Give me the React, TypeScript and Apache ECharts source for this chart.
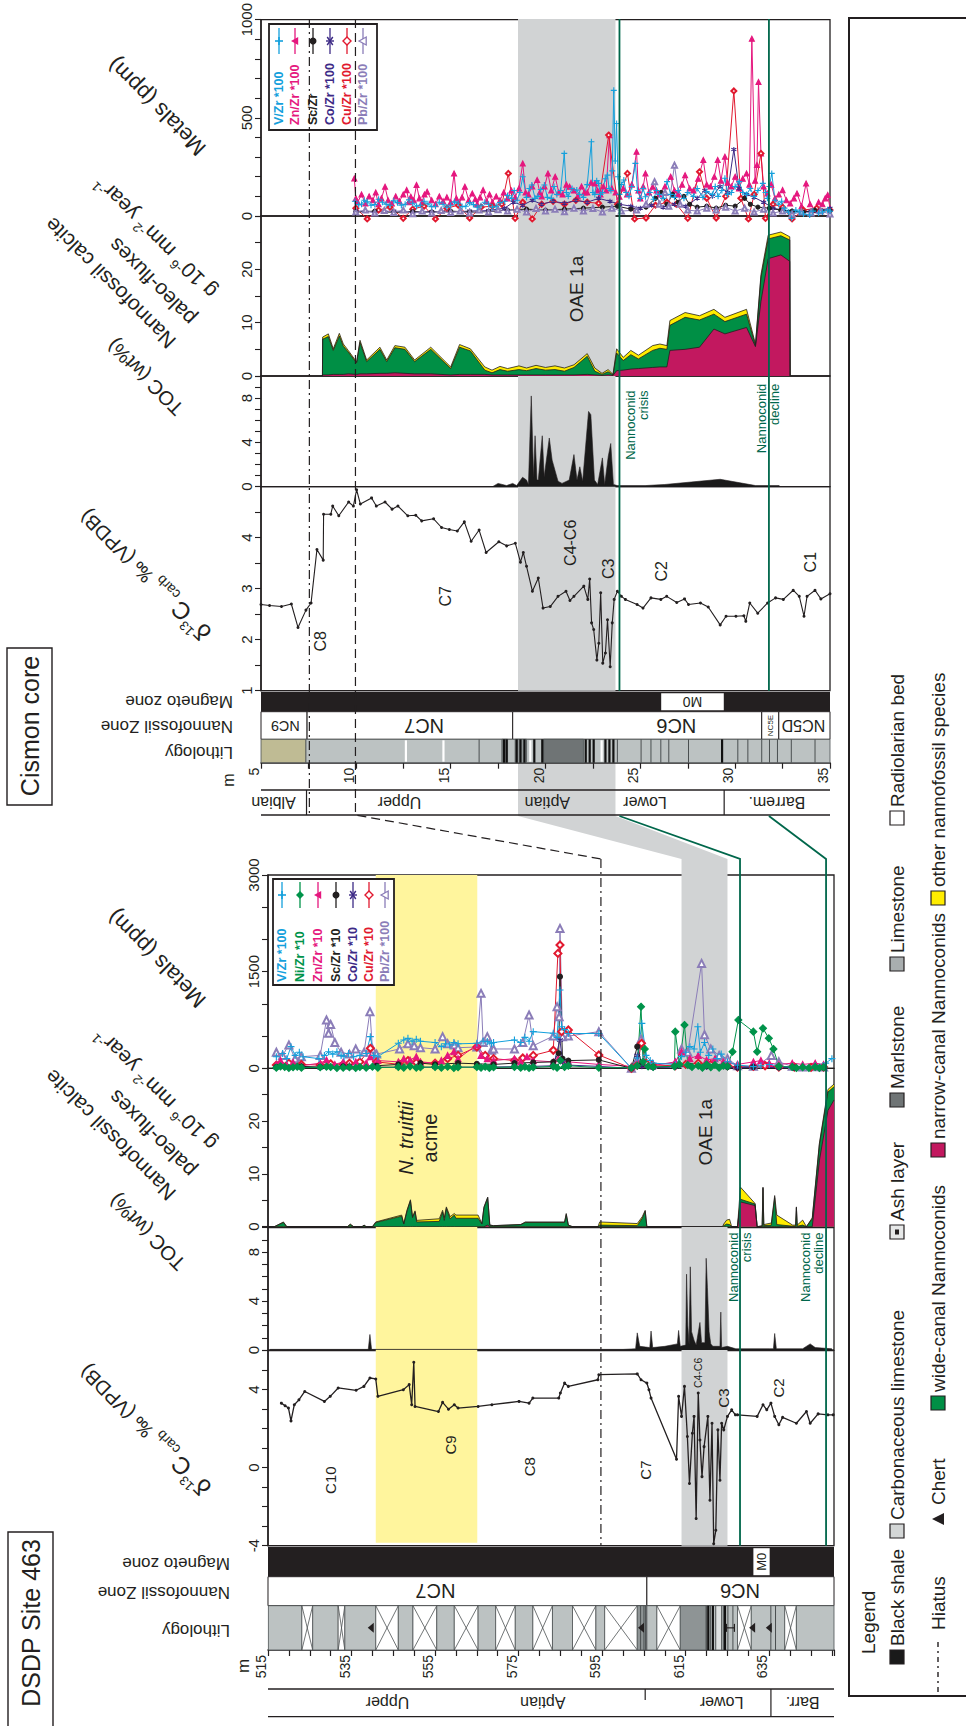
import React, { useEffect, useRef } from "react";
import * as echarts from "echarts";

const FONT = "'Liberation Sans', Arial, Helvetica, sans-serif";
const INK = "#231f20";
const GRAY_BAND = "#d1d3d4";
const YELLOW_BAND = "#fff59d";
const GREEN_LINE = "#00674b";
const C_NARROW = "#c2185f";
const C_WIDE = "#008f45";
const C_OTHER = "#ffec00";

// ---------------- Cismon core ----------------
const cismonD13C = [[5.0,2.69],[5.45,2.67],[6.08,2.65],[6.6,2.70],[6.95,2.24],[7.37,2.58],[7.64,2.72],[7.95,3.77],[8.28,3.56],[8.3,4.46],[8.68,4.46],[8.78,4.62],[9.1,4.43],[9.62,4.70],[9.87,4.62],[10.04,4.94],[10.24,4.66],[10.83,4.78],[11.08,4.62],[11.54,4.70],[11.91,4.56],[12.22,4.62],[12.74,4.43],[13.16,4.44],[13.47,4.33],[14.1,4.37],[14.52,4.20],[14.93,4.16],[15.35,4.13],[15.72,4.31],[16.08,3.93],[16.5,4.15],[16.87,3.71],[17.54,3.92],[17.95,3.84],[18.41,3.89],[18.68,3.52],[18.83,3.71],[19.0,3.44],[19.31,2.95],[19.62,3.21],[19.87,2.62],[20.25,2.65],[20.66,2.85],[21.08,2.95],[21.29,2.77],[21.5,2.85],[22.02,3.05],[22.23,2.79],[22.33,3.19],[22.43,2.33],[22.54,2.20],[22.71,1.60],[22.81,1.93],[22.91,2.92],[23.02,1.54],[23.16,1.74],[23.27,2.39],[23.41,1.47],[23.52,2.33],[23.62,2.79],[23.79,2.95],[24.0,2.85],[24.21,2.79],[24.83,2.69],[25.14,2.62],[25.56,2.82],[26.08,2.79],[26.39,2.85],[26.92,2.73],[27.33,2.80],[27.54,2.69],[28.17,2.72],[28.58,2.64],[29.21,2.29],[29.52,2.46],[30.04,2.46],[30.46,2.47],[30.56,2.36],[30.77,2.72],[31.19,2.52],[31.71,2.72],[32.13,2.82],[32.54,2.79],[33.06,2.97],[33.38,2.85],[33.63,2.46],[33.79,2.85],[34.21,2.97],[34.52,2.80],[35.0,2.90]];

const cismonTOC = [[17.2,0],[17.5,0.3],[17.95,0.1],[18.27,0.3],[18.48,0.1],[18.79,0.85],[19.0,0.6],[19.1,0.2],[19.25,8.2],[19.37,0.9],[19.45,4.6],[19.55,0.6],[19.62,0.6],[19.83,4.6],[19.93,0.9],[20.2,4.4],[20.35,2.4],[20.66,0.5],[20.87,0.3],[21.25,0.6],[21.5,2.9],[21.66,0.6],[21.81,1.8],[21.96,0.5],[22.27,6.8],[22.39,6.5],[22.58,0.6],[22.75,0.2],[23.0,2.6],[23.12,0.2],[23.31,2.75],[23.44,3.9],[23.58,0.2],[23.79,0.1],[25.25,0.1],[26.29,0.2],[29.21,0.67],[31.08,0.1],[32.33,0.1]];

const cismonFluxDepth = [8.24,8.25,8.55,8.81,9.13,9.34,9.6,10.04,10.22,10.57,11.27,11.63,12.06,12.59,13.1,13.95,15.0,15.47,16.04,16.8,17.18,17.6,18.0,18.6,19.0,19.5,20.0,20.5,21.0,21.5,22.2,22.6,22.98,23.3,23.56,23.75,24.1,24.5,24.9,25.65,26.03,26.4,26.56,27.36,28.12,28.88,29.46,30.6,31.07,31.36,31.74,32.41,32.88,32.9];
const cismonFluxNarrow = [0,0.2,0.2,0.3,0.3,0.3,0.4,0.3,0.4,0.4,0.5,0.5,0.6,0.5,0.4,0.4,0.2,0.3,0.3,0.3,0.2,0.2,0.2,0.2,0.2,0.2,0.2,0.2,0.2,0.2,0.3,0.2,0.1,0.2,0.1,1.0,1.1,1.3,1.4,1.6,1.7,1.7,4.8,5.0,5.4,8.8,7.9,9.1,5.5,14.0,22.0,22.7,21.5,0];
const cismonFluxWide = [0,6.7,7.2,4.5,7.2,5.3,4.1,2.15,5.9,2.3,4.5,2.2,4.7,4.5,2.3,4.6,1.2,5.1,4.4,0.8,0.4,1.0,0.7,1.0,0.8,1.2,0.9,1.0,0.7,1.4,3.4,0.7,0.2,0.6,0.1,3.3,1.8,2.7,1.8,3.2,3.5,3.3,4.7,6.0,5.1,2.8,2.3,2.5,0.2,4.5,3.7,3.6,4.0,0];
const cismonFluxOther = [0,0.4,0.5,0.3,0.5,0.4,0.3,0.2,0.4,0.3,0.4,0.3,0.4,0.4,0.3,0.4,0.3,0.5,0.4,0.6,0.5,0.6,0.5,0.7,0.5,0.6,0.5,0.7,0.6,0.5,0.5,0.6,0.2,0.4,0.1,0.8,0.6,0.8,0.7,0.9,0.8,0.7,0.9,0.9,0.8,0.9,0.8,0.9,0.3,0.5,0.7,0.7,0.6,0];

const cismonV = [[9.95,75],[10.15,58],[10.3,60],[10.45,80],[10.6,72],[10.8,55],[11.0,58],[11.2,85],[11.4,70],[11.6,60],[11.8,55],[12.0,78],[12.2,68],[12.4,55],[12.6,60],[12.8,82],[13.0,65],[13.2,50],[13.4,55],[13.6,75],[13.8,62],[14.0,48],[14.2,50],[14.4,70],[14.6,60],[14.8,45],[15.0,55],[15.2,72],[15.4,65],[15.6,48],[15.8,50],[16.0,68],[16.2,58],[16.4,45],[16.6,52],[16.8,70],[17.0,60],[17.2,45],[17.4,50],[17.6,68],[17.85,75],[18.0,105],[18.2,90],[18.35,130],[18.5,80],[18.65,120],[18.8,200],[19.0,95],[19.15,140],[19.28,158],[19.45,90],[19.6,100],[19.75,135],[19.94,158],[20.1,95],[20.3,90],[20.45,150],[20.6,110],[20.8,130],[20.99,319],[21.1,120],[21.2,100],[21.4,140],[21.65,132],[21.8,110],[22.0,95],[22.2,160],[22.42,378],[22.5,120],[22.6,110],[22.7,180],[22.8,166],[22.9,110],[23.0,120],[23.15,190],[23.27,208],[23.35,140],[23.45,130],[23.52,230],[23.6,640],[23.68,280],[23.75,471],[23.82,200],[23.9,110],[24.0,160],[24.13,183],[24.25,120],[24.4,100],[24.55,150],[24.74,268],[24.85,130],[25.0,90],[25.15,140],[25.27,98],[25.5,120],[25.7,85],[25.85,130],[26.0,110],[26.2,90],[26.41,175],[26.6,110],[26.8,95],[27.0,130],[27.3,90],[27.5,120],[27.8,100],[28.0,140],[28.3,95],[28.5,125],[28.8,110],[28.95,150],[29.1,100],[29.3,130],[29.46,192],[29.6,110],[29.8,120],[30.0,150],[30.22,175],[30.4,120],[30.6,110],[30.8,140],[31.0,100],[31.2,130],[31.46,166],[31.6,120],[31.7,90],[31.8,150],[31.93,217],[32.1,80],[32.3,60],[32.45,75],[32.6,40],[32.8,20],[32.98,-12],[33.2,30],[33.4,20],[33.6,10],[33.93,5],[34.1,25],[34.4,15],[34.6,20],[34.88,31],[35.0,25]];
const cismonZn = [[9.92,191],[10.0,90],[10.1,70],[10.3,110],[10.5,64],[10.7,100],[10.9,80],[11.05,120],[11.2,60],[11.35,90],[11.54,149],[11.7,80],[11.9,64],[12.1,100],[12.3,75],[12.5,110],[12.68,132],[12.8,70],[12.9,98],[13.05,80],[13.2,158],[13.35,90],[13.5,70],[13.62,110],[13.76,124],[14.0,80],[14.2,60],[14.4,100],[14.6,75],[14.8,95],[15.0,70],[15.18,217],[15.3,90],[15.45,64],[15.6,95],[15.75,149],[15.95,80],[16.14,115],[16.3,85],[16.4,60],[16.55,95],[16.71,132],[16.9,75],[17.05,110],[17.2,70],[17.4,100],[17.6,80],[17.8,120],[18.0,90],[18.2,130],[18.4,95],[18.6,140],[18.8,268],[18.95,120],[19.1,110],[19.3,150],[19.56,183],[19.7,120],[19.8,100],[19.95,150],[20.13,217],[20.3,130],[20.51,200],[20.7,120],[20.9,110],[21.1,160],[21.27,149],[21.5,130],[21.7,100],[21.9,150],[22.05,120],[22.2,120],[22.4,170],[22.61,166],[22.75,130],[22.9,110],[23.05,150],[23.2,130],[23.37,412],[23.5,140],[23.7,120],[23.9,98],[24.1,140],[24.3,110],[24.55,160],[24.8,327],[24.9,130],[25.0,90],[25.15,150],[25.27,217],[25.45,120],[25.65,149],[25.85,130],[26.0,110],[26.3,150],[26.6,200],[26.8,130],[27.0,110],[27.2,160],[27.36,208],[27.6,140],[27.8,130],[28.05,190],[28.32,285],[28.5,160],[28.7,150],[28.9,200],[29.08,285],[29.25,180],[29.46,302],[29.6,170],[29.8,150],[30.0,200],[30.2,140],[30.4,190],[30.6,217],[30.75,160],[30.88,903],[31.05,180],[31.15,260],[31.23,683],[31.36,319],[31.5,150],[31.7,115],[31.9,160],[32.1,90],[32.3,110],[32.5,132],[32.7,80],[32.9,64],[33.1,90],[33.26,115],[33.5,50],[33.74,166],[33.95,60],[34.2,30],[34.4,70],[34.6,60],[34.75,90],[34.88,107],[35.0,40]];
const cismonSc = [[10.0,20],[11.0,25],[12.0,18],[13.0,22],[14.0,20],[15.0,25],[16.0,20],[17.0,22],[18.0,30],[19.0,35],[20.0,30],[21.0,35],[22.0,40],[23.0,45],[23.8,50],[24.5,35],[25.3,45],[25.8,90],[26.1,120],[26.4,60],[26.7,110],[27.0,70],[27.3,100],[27.6,60],[28.0,45],[28.5,50],[29.0,40],[29.5,55],[30.0,50],[30.5,90],[30.8,60],[31.2,45],[31.8,40],[32.4,30],[33.0,25],[33.6,20],[34.2,30],[35.0,25]];
const cismonCo = [[10.0,25],[11.0,20],[12.0,25],[13.0,20],[14.0,22],[15.0,20],[16.0,25],[17.0,28],[17.85,40],[18.3,70],[18.8,55],[19.3,80],[19.8,60],[20.4,75],[21.0,65],[21.6,80],[22.2,70],[22.8,90],[23.4,75],[23.9,60],[24.5,50],[25.0,40],[25.6,55],[26.2,45],[26.8,60],[27.4,50],[28.0,90],[28.4,130],[28.8,100],[29.2,150],[29.6,120],[29.93,339],[30.2,140],[30.6,110],[31.0,95],[31.5,70],[32.0,40],[32.5,30],[33.0,25],[33.5,20],[34.0,25],[34.5,30],[35.0,40]];
const cismonCu = [[10.0,40],[10.6,-15],[11.2,30],[11.8,45],[12.5,-12],[13.0,35],[13.6,50],[14.2,-15],[14.8,40],[15.4,55],[16.0,-10],[16.6,45],[17.2,50],[17.7,60],[18.04,217],[18.4,-12],[18.8,70],[19.3,-15],[19.8,60],[20.4,75],[21.0,60],[21.6,80],[22.2,70],[22.8,65],[23.33,412],[23.8,60],[24.32,217],[24.7,-15],[25.3,-10],[25.8,55],[26.4,70],[26.9,60],[27.5,-12],[28.12,225],[28.5,90],[29.0,-10],[29.5,100],[29.93,637],[30.3,90],[30.7,-15],[31.0,110],[31.36,319],[31.6,-12],[32.0,60],[32.5,45],[33.0,-15],[33.6,30],[34.3,40],[35.0,30]];
const cismonPb = [[10.0,20],[10.5,30],[11.0,15],[11.5,28],[12.0,18],[12.5,30],[13.0,12],[13.5,25],[14.0,15],[14.5,28],[15.0,18],[15.5,25],[16.0,15],[16.5,30],[17.0,20],[17.5,32],[18.0,25],[18.5,35],[19.0,20],[19.5,38],[20.0,25],[20.5,35],[21.0,22],[21.5,40],[22.0,25],[22.5,38],[23.0,20],[23.5,40],[24.0,25],[24.8,30],[25.3,60],[25.75,175],[26.0,60],[26.3,120],[26.5,50],[26.8,259],[27.1,60],[27.5,30],[28.0,25],[28.5,40],[29.0,30],[29.5,45],[30.0,25],[30.5,40],[31.0,20],[31.5,35],[32.0,15],[32.5,25],[33.0,10],[33.5,20],[34.0,15],[34.5,25],[35.0,10]];

// lithology: [top, base, kind]  kinds: 0 limestone, 1 no recovery (X), 2 marly, 3 marlstone, 4 Albian marl, 5 black shale, 6 radiolarian, 7 bed limit, 8 chert, 9 ash, 10 pale
const cismonLith = [[5.0,7.37,4],[7.37,35.0,0],[17.7,18.0,2],[18.4,19.0,2],[19.9,22.0,3],[12.64,12.64,6],[14.62,14.62,6],[19.2,19.2,6],[22.96,22.96,6],[17.81,17.81,5],[17.95,17.95,5],[18.48,18.48,5],[18.68,18.68,5],[18.89,18.89,5],[19.41,19.41,5],[19.83,19.83,5],[22.12,22.12,5],[22.33,22.33,5],[22.54,22.54,5],[23.16,23.16,5],[23.37,23.37,5],[23.58,23.58,5],[29.31,29.31,5],[16.5,16.5,7],[23.79,23.79,7],[25.04,25.04,7],[25.56,25.56,7],[26.08,26.08,7],[26.5,26.5,7],[27.54,27.54,7],[30.14,30.14,7],[30.67,30.67,7],[31.4,31.4,7],[31.81,31.81,7],[32.23,32.23,7],[32.96,32.96,7],[34.21,34.21,7]];
const cismonNannoNames = ["NC9", "NC7", "NC6", "NC5E", "NC5D"];
const cismonNanno = [[5.0,7.43,0,6.28],[7.43,18.27,1,13.6],[18.27,31.4,2,26.9],[31.4,32.3,3,31.85],[32.3,35.0,4,33.6]];
const cismonMagneto = [[5,35,0],[26.1,29.4,1]];
const cismonStageNames = ["Albian", "Upper", "Aptian", "Lower", "Barrem."];
const cismonStages = [[5.66,0,0],[12.3,0,1],[20.1,0,2],[25.25,0,3],[32.2,0,4],[7.4,1,0],[29.42,1,0]];
const cismonZones = [["C8",8.16,1.97],["C7",14.72,2.85],["C4-C6",21.33,3.9],["C3",23.33,3.39],["C2",26.14,3.34],["C1",33.96,3.52]];

// ---------------- DSDP Site 463 ----------------
const dsdpD13C = [[518.2,3.31],[519.1,3.18],[519.9,3.06],[520.5,2.40],[521.3,3.23],[522.4,3.48],[523.8,3.91],[528.5,3.40],[529.9,3.66],[531.8,4.09],[536.1,3.97],[537.96,4.17],[539.4,4.60],[540.8,4.55],[541.3,3.66],[547.4,4.0],[548.8,4.26],[549.4,3.23],[549.9,5.41],[550.2,3.14],[555.8,2.88],[556.8,3.35],[558.2,3.0],[559.6,3.23],[560.5,3.06],[565.3,3.14],[568.6,3.23],[575.1,3.40],[577.5,3.31],[578.4,3.57],[584.6,3.57],[585.0,3.83],[586.0,4.34],[586.9,4.17],[593.97,4.51],[594.2,4.77],[603.4,4.81],[604.3,4.51],[605.7,4.34],[606.2,4.0],[606.7,3.57],[612.8,0.43],[613.3,3.66],[614.0,2.63],[614.7,4.17],[615.4,1.60],[615.9,-0.81],[616.6,1.77],[617.0,2.63],[617.5,-2.61],[618.0,3.83],[618.4,1.42],[618.9,-0.46],[619.4,1.08],[620.3,2.63],[620.8,-1.67],[621.3,2.28],[621.7,-3.90],[622.2,-3.21],[622.7,1.94],[623.2,-0.64],[623.6,2.28],[624.1,1.94],[625.0,2.63],[626.0,2.97],[626.9,2.71],[627.4,2.71],[632.1,2.63],[633.5,3.23],[634.4,2.97],[635.4,3.31],[636.3,2.63],[637.3,2.20],[638.2,2.58],[641.5,2.28],[643.9,2.88],[644.8,2.28],[646.7,2.76],[649.05,2.71],[650.3,2.71]];

const dsdpTOC = [[515.5,0.05],[530,0.05],[539.0,0.05],[539.4,1.27],[539.8,0.05],[560,0.05],[575,0.05],[600,0.05],[603.0,0.1],[603.4,1.4],[604,0.3],[606.4,0.2],[606.7,1.55],[607.1,0.2],[610,0.3],[613.0,0.5],[613.3,1.6],[613.7,0.3],[615.0,0.4],[615.2,6.2],[615.5,2.0],[615.8,0.5],[616.1,6.8],[616.4,1.5],[617,0.8],[617.5,0.4],[618.4,2.25],[618.8,0.6],[619.6,0.6],[619.9,7.5],[620.2,5.1],[620.6,1.5],[621,0.5],[621.5,0.3],[623.2,0.3],[623.4,3.1],[623.6,0.2],[625,0.3],[627,0.1],[635,0.1],[636.0,0.1],[636.3,1.35],[636.7,0.1],[643,0.1],[644.8,0.5],[646,0.2],[650,0.1]];

const dsdpFluxDepth = [516.5,518.7,519.5,534.0,534.7,535.5,537.5,538.0,538.5,540.0,540.8,547.0,547.5,548.3,549.1,549.6,550.2,550.6,556.0,556.8,557.2,557.7,558.6,559.6,560.0,565.3,566.2,566.7,567.6,568.1,569.0,575.5,576.6,586.0,586.4,586.9,587.9,594.0,594.4,603.4,604.6,605.3,605.7,623.8,624.1,624.8,625.5,626.0,627.4,628.1,631.6,632.1,633.3,633.5,633.7,635.5,636.3,636.8,640.6,641.3,641.5,641.7,643.0,643.9,645.3,647.0,649.05,650.5];
const dsdpFluxNarrow = [0,0,0,0,0,0,0,0,0,0, 0,0,0,0,0,0,0,0,0,0, 0,0,0,0,0,0,0,0,0.3,0, 0,0,0,0,0,0,0,0,0,0, 0,0,0,0,0,0,0,0,0,4.7, 4.0,0,0,0,0,0,0,0,0,0, 0,0,0,0,0,12.5,22.0,24.0];
const dsdpFluxWide = [0,0.8,0,0,0.4,0,0,0.3,0,0, 0.8,2.0,0.5,3.0,4.9,1.7,2.8,0.9,1.0,2.8, 1.2,3.5,1.5,2.2,1.6,1.6,0.5,3.6,5.2,0.3, 0.2,0.4,0.8,0.8,2.3,0.3,0,0,0.3,0.2, 1.6,2.9,0,0,0.2,0.5,0.4,0,0,0.5, 0.3,0,0.1,7.3,0.2,0.3,5.5,0.4,0.1,0.1, 3.6,0.1,0.3,0,1.5,3.0,3.5,2.5];
const dsdpFluxOther = [0,0.1,0,0,0.1,0,0,0,0,0, 0.1,0.2,0.1,0.2,0.2,0.2,0.2,0.3,0.5,0.3, 0.5,0.25,0.4,0.3,0.6,0.6,0.1,0.15,0.1,0, 0,0,0.1,0.1,0.2,0,0,0,0.6,0.4, 0.3,0.2,0,0,0.3,0.75,1.0,0,0,2.3, 0.1,0,0.1,0.2,0.2,0.4,0.4,1.8,0.2,0.2, 0.15,0.2,0.95,0,0.2,0.3,0.5,0.5];

const dsdpV = [[517,180],[518.5,230],[519.5,150],[520.5,336],[521.5,200],[522.5,250],[523.4,180],[527.2,150],[528.5,200],[529.5,258],[530.5,220],[531.5,258],[532.5,200],[533.2,180],[534.3,230],[535.5,180],[537,200],[538.5,230],[539.5,491],[540.3,200],[541.3,180],[546.2,388],[547.5,440],[548.5,465],[549.5,420],[550.5,450],[551.5,420],[555,400],[556.5,336],[557.5,380],[558.5,362],[559.5,400],[560.5,380],[565,388],[566.5,420],[567.5,414],[568.5,380],[569,400],[574,440],[575.5,400],[576.5,480],[577.5,420],[578.5,569],[583.3,543],[584.2,480],[584.9,1215],[585.3,646],[586,600],[586.9,540],[594.2,540],[602,0],[603.4,160],[604.5,698],[605.5,200],[606.5,120],[607.2,80],[612.5,60],[614,181],[615,250],[616,336],[617,300],[617.9,646],[618.5,250],[619.5,400],[620.5,200],[621.5,300],[622.5,150],[623.5,220],[625,100],[627.4,50],[631.2,26],[633,40],[635,60],[637.3,30],[640.5,20],[643,30],[646,40],[648.5,80],[650,150]];
const dsdpNi = [[517,10],[518,30],[519,20],[520,5],[521,15],[522,25],[523,10],[527.5,15],[529,25],[530,20],[531.5,5],[533,10],[534.5,15],[536,5],[537,20],[538.5,10],[540,25],[541.3,10],[546.2,20],[547.5,10],[549,30],[550.5,10],[551.5,15],[555,20],[556.5,10],[558,25],[559.5,5],[560.5,15],[565,20],[566,10],[567,25],[568,5],[569,15],[574,20],[575.5,10],[576.5,25],[577.5,5],[578.5,15],[583.3,30],[584.2,10],[585,120],[586,20],[586.9,40],[594.2,10],[602,10],[603.4,40],[604.3,956],[604.8,100],[605.2,300],[606,30],[607.2,20],[612.3,30],[612.5,569],[613.5,60],[614.7,672],[615.5,50],[616.5,20],[618,40],[619,10],[620,60],[621,15],[622,50],[623,10],[624,40],[625,30],[626.2,258],[627.6,750],[631.2,569],[632.1,258],[633.5,620],[634.9,465],[636,300],[637.3,30],[640.5,20],[641.5,5],[643,15],[644.5,5],[646,20],[647,5],[648,15]];
const dsdpZn = [[517,60],[518,120],[519.5,50],[521,90],[523,40],[527.5,80],[529,130],[531,60],[533,100],[534.5,40],[536,100],[538.5,80],[539.5,181],[540.5,60],[541.3,120],[546.2,100],[547.5,150],[549,130],[550.5,180],[551.5,100],[555,80],[556.5,120],[558,200],[559.5,258],[560.5,150],[565,362],[566,200],[567.5,150],[569,120],[574,150],[575.5,100],[577,180],[578.5,120],[583.3,100],[584.5,150],[585.5,120],[586.9,100],[594.2,60],[602,30],[603.5,80],[605,60],[607,40],[612.5,100],[614,258],[616,150],[618,200],[620,130],[622,150],[624,100],[625,80],[627.4,60],[631.2,100],[633,120],[635,80],[637.3,60],[640.5,80],[643,60],[646,80],[648,60]];
const dsdpSc = [[517,20],[523,30],[527.5,20],[533,30],[534.5,25],[541,40],[546.2,60],[551.5,80],[555,60],[560.5,80],[565,70],[569,60],[574,80],[578.5,90],[583.3,100],[584.6,233],[584.9,1422],[585.5,150],[586.9,120],[594.2,130],[602,0],[603.4,336],[604.5,60],[607.2,20],[612.5,30],[616,40],[620,30],[625,20],[627.4,10],[631.2,20],[637.3,15],[641,10],[648,10]];
const dsdpCo = [[517,10],[523,15],[527.5,10],[533,15],[534.5,10],[541,20],[546.2,15],[551.5,20],[555,15],[560.5,20],[565,15],[569,20],[574,25],[578.5,30],[583.3,40],[584.9,440],[585.5,100],[586.9,50],[594.2,30],[602,0],[603.4,200],[604.5,30],[607.2,10],[612.5,20],[616,30],[620,25],[625,15],[627.4,10],[631.2,20],[637.3,10],[641,10],[648,10]];
const dsdpCu = [[517,50],[520,80],[523,60],[527.5,50],[530,70],[533,60],[534.5,80],[537,100],[539.5,310],[541,100],[546.5,60],[548.5,120],[550.5,90],[555,80],[558,150],[560.5,200],[565,330],[567,200],[569,150],[574,120],[576,160],[578.5,200],[583.3,280],[584.4,1783],[584.9,1913],[585.3,569],[586.9,594],[594.2,207],[602,0],[603.4,50],[604.4,388],[605.5,80],[607,50],[612.5,40],[615,60],[618,80],[621,60],[625,40],[627.4,20],[631.2,30],[634,40],[637.3,20],[641,20],[645,15],[648,20]];
const dsdpPb = [[517,250],[518.5,200],[520,362],[521.5,150],[523,180],[527.5,200],[529,750],[529.5,543],[530,680],[531,400],[532.5,250],[534.5,220],[536,300],[538,250],[539.4,879],[540,300],[541,220],[546.5,300],[548.5,380],[550,350],[551.5,320],[555,300],[556.8,491],[558,380],[559.6,362],[560.5,320],[565,330],[566,1163],[566.5,400],[567.5,491],[568.5,280],[569,300],[574,300],[576,400],[577.5,827],[578.5,350],[583.3,500],[584.2,956],[584.7,800],[584.9,2171],[585.5,491],[586.9,500],[594.2,569],[602,0],[603.4,100],[604.3,450],[605,100],[607,60],[612.5,80],[614,300],[615.5,250],[618.8,1628],[619.5,520],[621,300],[623,200],[625,150],[627.4,40],[631.2,30],[633,80],[635.5,200],[637.3,100],[640.5,30],[643,20],[646,25],[648,20]];

const dsdpLith = [[515.1,523.1,0],[523.1,525.7,1],[525.7,531.8,0],[531.8,533.4,1],[533.4,540.8,0],[540.8,546.2,1],[546.2,549.7,0],[549.7,555.4,1],[555.4,559.6,0],[559.6,565.3,1],[565.3,569.5,0],[569.5,574.2,1],[574.2,578.4,0],[578.4,583.1,1],[583.1,587.9,0],[587.9,593.5,1],[593.5,595.6,0],[595.6,603.4,1],[603.4,605.7,2],[605.7,608.1,0],[608.1,613.7,1],[613.7,619.9,2],[619.9,622.2,0],[622.2,623.6,10],[623.6,627.4,0],[627.4,630.7,1],[630.7,635.4,0],[635.4,638.7,0],[638.7,641.5,1],[641.5,650.5,0],[604.2,604.2,7],[605.0,605.0,7],[605.4,605.4,7],[620.0,620.0,7],[620.4,620.4,5],[620.9,620.9,7],[621.5,621.5,5],[624.0,624.0,7],[624.4,624.4,5],[625.1,625.1,7],[626.3,626.3,7],[636.5,636.5,7],[539.6,539.6,8],[604.3,604.3,8],[630.9,630.9,8],[634.9,634.9,8],[625.7,625.7,9]];
const dsdpNannoNames = ["NC7", "NC6"];
const dsdpNanno = [[515,605.7,0,555.1],[605.7,650.5,1,628.0]];
const dsdpMagneto = [[515,650.5,0],[631.2,635.1,1]];
const dsdpStageNames = ["Upper", "Aptian", "Lower", "Barr."];
const dsdpStages = [[543.6,0,0],[580.8,0,1],[623.6,0,2],[643,0,3],[605.3,2,0],[635.4,1,0]];
const dsdpZones = [["C10",530,-0.64],["C9",558.7,1.17],["C8",577.5,0.05],["C7",605.3,-0.12],["C4-C6",618,4.86],["C3",624.1,3.57],["C2",637.3,4.09]];

// ---------------- layout ----------------
const GRIDS = [
  { l: 261, r: 830, t: 19, b: 216 },
  { l: 261, r: 830, t: 216, b: 376 },
  { l: 261, r: 830, t: 376, b: 486.7 },
  { l: 261, r: 830, t: 486.7, b: 690.7 },
  { l: 261, r: 830, t: 691.7, b: 711.7 },
  { l: 261, r: 830, t: 711.7, b: 739.3 },
  { l: 261, r: 830, t: 739.3, b: 762.7 },
  { l: 261, r: 830, t: 790, b: 815 },
  { l: 268, r: 834, t: 875, b: 1068.3 },
  { l: 268, r: 834, t: 1068.3, b: 1226.7 },
  { l: 268, r: 834, t: 1227.7, b: 1350 },
  { l: 268, r: 834, t: 1350.7, b: 1545.7 },
  { l: 268, r: 834, t: 1546.7, b: 1576.7 },
  { l: 268, r: 834, t: 1576.7, b: 1605.7 },
  { l: 268, r: 834, t: 1605.7, b: 1650 },
  { l: 268, r: 834, t: 1689, b: 1716.7 },
];

const txtStyle = (o: any) => {
  const s: any = {
    text: o.text, fill: o.color || INK, fontSize: o.size || 15, fontFamily: FONT,
    fontWeight: o.weight || "normal", fontStyle: o.fstyle || "normal",
    align: o.align || "center", verticalAlign: o.valign || "middle",
    textAlign: o.align || "center", textVerticalAlign: o.valign || "middle",
  };
  if (o.rich) s.rich = o.rich;
  return s;
};
const T = (x: number, y: number, text: string, o: any = {}) => ({
  type: "text", x, y, rotation: o.rot || 0, z: o.z || 6, silent: true,
  style: txtStyle({ ...o, text }),
});

const LITH_FILL: any = { 0: "#bcc2c2", 1: "#ffffff", 2: "#8e9495", 3: "#6f7475", 4: "#bfbb94", 10: "#dfe2e2" };

function renderLith(params: any, api: any) {
  const cs = params.coordSys;
  const a = api.coord([api.value(0), 0])[0];
  const b = api.coord([api.value(1), 0])[0];
  const k = api.value(2);
  const y = cs.y, h = cs.height;
  const edge = "#4d5253";
  if (k <= 4 || k === 10) {
    const ch: any[] = [{ type: "rect", shape: { x: a, y, width: b - a, height: h }, style: { fill: LITH_FILL[k], stroke: edge, lineWidth: 0.8 } }];
    if (k === 1) {
      ch.push({ type: "line", shape: { x1: a, y1: y, x2: b, y2: y + h }, style: { stroke: edge, lineWidth: 0.8 } });
      ch.push({ type: "line", shape: { x1: a, y1: y + h, x2: b, y2: y }, style: { stroke: edge, lineWidth: 0.8 } });
    }
    return { type: "group", children: ch };
  }
  if (k === 5) return { type: "line", shape: { x1: a, y1: y, x2: a, y2: y + h }, style: { stroke: "#111", lineWidth: 2.2 } };
  if (k === 6) return { type: "line", shape: { x1: a, y1: y + 1, x2: a, y2: y + h - 1 }, style: { stroke: "#fff", lineWidth: 2.2 } };
  if (k === 7) return { type: "line", shape: { x1: a, y1: y, x2: a, y2: y + h }, style: { stroke: "#4a4f50", lineWidth: 1 } };
  if (k === 8) {
    const m = y + h / 2;
    return { type: "polygon", shape: { points: [[a + 3, m - 5], [a + 3, m + 5], [a - 3, m]] }, style: { fill: INK } };
  }
  const m = y + h / 2;
  return {
    type: "group", children: [
      { type: "line", shape: { x1: a - 4, y1: m, x2: a + 4, y2: m }, style: { stroke: INK, lineWidth: 1.2 } },
      { type: "line", shape: { x1: a - 4, y1: m - 4, x2: a - 4, y2: m + 4 }, style: { stroke: INK, lineWidth: 1.2 } },
      { type: "line", shape: { x1: a + 4, y1: m - 4, x2: a + 4, y2: m + 4 }, style: { stroke: INK, lineWidth: 1.2 } },
    ],
  };
}

const renderNanno = (names: string[]) => (params: any, api: any) => {
  const cs = params.coordSys;
  const a = api.coord([api.value(0), 0])[0];
  const b = api.coord([api.value(1), 0])[0];
  const lx = api.coord([api.value(3), 0])[0];
  const w = b - a;
  const narrow = w < 22;
  const fs = narrow ? 8 : Math.min(20, w / 3.2);
  return {
    type: "group", children: [
      { type: "rect", shape: { x: a, y: cs.y, width: w, height: cs.height }, style: { fill: "#fff", stroke: INK, lineWidth: 1 } },
      { type: "text", x: lx, y: cs.y + cs.height / 2, rotation: narrow ? Math.PI / 2 : Math.PI, style: txtStyle({ text: names[api.value(2)], size: fs }) },
    ],
  };
};

const renderMagneto = (rot: number, fs: number) => (params: any, api: any) => {
  const cs = params.coordSys;
  const a = api.coord([api.value(0), 0])[0];
  const b = api.coord([api.value(1), 0])[0];
  if (api.value(2) === 0) return { type: "rect", shape: { x: a, y: cs.y, width: b - a, height: cs.height }, style: { fill: INK } };
  return {
    type: "group", children: [
      { type: "rect", shape: { x: a, y: cs.y + 1.5, width: b - a, height: cs.height - 3 }, style: { fill: "#fff" } },
      { type: "text", x: (a + b) / 2, y: cs.y + cs.height / 2, rotation: rot, style: txtStyle({ text: "M0", size: fs }) },
    ],
  };
};

const renderStage = (names: string[]) => (params: any, api: any) => {
  const cs = params.coordSys;
  const x = api.coord([api.value(0), 0])[0];
  const k = api.value(1);
  if (k === 0) return { type: "text", x, y: cs.y + cs.height / 2, rotation: Math.PI, style: txtStyle({ text: names[api.value(2)], size: 16 }) };
  const y2 = k === 1 ? cs.y + cs.height : cs.y + cs.height * 0.4;
  return { type: "line", shape: { x1: x, y1: cs.y, x2: x, y2 }, style: { stroke: INK, lineWidth: 1.2 } };
};

function yAx(i: number, min: number, max: number, interval: number, minor: number, fmt: (v: number) => string) {
  return {
    type: "value", gridIndex: i, min, max, interval,
    axisLine: { show: true, lineStyle: { color: INK, width: 1.5 } },
    axisTick: { show: true, length: 6, lineStyle: { color: INK, width: 1.1 } },
    minorTick: { show: true, splitNumber: minor, length: 6, lineStyle: { color: INK, width: 1.1 } },
    splitLine: { show: false }, minorSplitLine: { show: false },
    axisLabel: { rotate: 90, fontSize: 15, color: INK, fontFamily: FONT, margin: 7, formatter: fmt },
  };
}
const yHidden = (i: number) => ({ type: "value", gridIndex: i, min: 0, max: 1, show: false });

function metal(name: string, data: number[][], color: string, symbol: string, size: number, ax: number) {
  return {
    name, type: "line", xAxisIndex: ax, yAxisIndex: ax, data, symbol, symbolSize: size, showSymbol: true,
    lineStyle: { color, width: 1 }, itemStyle: { color, borderColor: color, borderWidth: 1.1 }, clip: false, z: 3,
  };
}
const PLUS = "path://M0,5L10,5M5,0L5,10";
const STAR = "path://M5,0L5,10M0,2.5L10,7.5M0,7.5L10,2.5";

function fluxSeries(depth: number[], narrow: number[], wide: number[], other: number[], ax: number) {
  const tot = depth.map((d, i) => [d, narrow[i] + wide[i] + other[i]]);
  const nw = depth.map((d, i) => [d, narrow[i] + wide[i]]);
  const n = depth.map((d, i) => [d, narrow[i]]);
  const mk = (data: number[][], color: string) => ({
    type: "line", xAxisIndex: ax, yAxisIndex: ax, data, symbol: "none",
    lineStyle: { color: INK, width: 0.8 }, areaStyle: { color, opacity: 1 }, z: 3,
  });
  return [mk(tot, C_OTHER), mk(nw, C_WIDE), mk(n, C_NARROW)];
}

function buildOption() {
  const grid = GRIDS.map((g, i) => ({
    left: g.l, top: g.t, width: g.r - g.l, height: g.b - g.t,
    show: i % 8 < 4, borderColor: INK, borderWidth: 1.3, backgroundColor: "transparent",
  }));
  const xAxis = GRIDS.map((g, i) => {
    const c = i < 8;
    return {
      type: "value", gridIndex: i, min: c ? 5 : 515, max: c ? 35 : 650.5, interval: c ? 5 : 20,
      show: i % 8 === 6, position: "bottom",
      axisLine: { show: true, onZero: false, lineStyle: { color: INK, width: 1.5 } },
      axisTick: { show: true, length: 6, lineStyle: { color: INK, width: 1.2 } },
      minorTick: { show: true, splitNumber: c ? 2 : 4, length: 6, lineStyle: { color: INK, width: 1.2 } },
      axisLabel: { rotate: 90, fontSize: 14, color: INK, fontFamily: FONT, margin: 5, verticalAlign: "bottom", showMaxLabel: c },
      splitLine: { show: false },
    };
  });
  const fmtAll = (v: number) => String(v);
  const yAxis = [
    yAx(0, 0, 1000, 500, 5, fmtAll),
    yAx(1, 0, 30, 10, 2, (v) => (v === 30 ? "" : String(v))),
    yAx(2, 0, 10, 2, 2, (v) => (v % 4 === 0 && v < 10 ? String(v) : "")),
    yAx(3, 1, 5, 1, 2, (v) => (v === 5 ? "" : String(v))),
    yHidden(4), yHidden(5), yHidden(6), yHidden(7),
    yAx(8, 0, 3000, 1500, 3, fmtAll),
    yAx(9, 0, 30, 10, 2, (v) => (v === 30 ? "" : String(v))),
    yAx(10, 0, 10, 2, 2, (v) => (v % 4 === 0 && v < 10 ? String(v) : "")),
    yAx(11, -4, 6, 2, 2, (v) => (v % 4 === 0 && v < 6 ? String(v) : "")),
    yHidden(12), yHidden(13), yHidden(14), yHidden(15),
  ];
  const custom = (ax: number, data: any[], renderItem: any) => ({
    type: "custom", xAxisIndex: ax, yAxisIndex: ax, data, renderItem, clip: false, z: 2, encode: { x: [0, 1] },
  });
  const series: any[] = [
    metal("Zn/Zr *100", cismonZn, "#e5177e", "triangle", 5, 0),
    metal("Cu/Zr *100", cismonCu, "#e1192f", "emptyDiamond", 5, 0),
    metal("Co/Zr *100", cismonCo, "#3d2a86", STAR, 5, 0),
    metal("Sc/Zr", cismonSc, INK, "circle", 4, 0),
    metal("Pb/Zr *100", cismonPb, "#8b7db8", "emptyTriangle", 5, 0),
    metal("V/Zr *100", cismonV, "#14a0dc", PLUS, 6, 0),
    ...fluxSeries(cismonFluxDepth, cismonFluxNarrow, cismonFluxWide, cismonFluxOther, 1),
    { type: "line", xAxisIndex: 2, yAxisIndex: 2, data: cismonTOC, symbol: "none", lineStyle: { color: INK, width: 0.6 }, areaStyle: { color: "#1a1a1a", opacity: 1 }, z: 3 },
    { type: "line", xAxisIndex: 3, yAxisIndex: 3, data: cismonD13C, symbol: "circle", symbolSize: 3, lineStyle: { color: INK, width: 1.1 }, itemStyle: { color: INK }, z: 3 },
    custom(4, cismonMagneto, renderMagneto(Math.PI, 14)),
    custom(5, cismonNanno, renderNanno(cismonNannoNames)),
    custom(6, cismonLith, renderLith),
    custom(7, cismonStages, renderStage(cismonStageNames)),
    metal("Pb/Zr *100", dsdpPb, "#8b7db8", "emptyTriangle", 7, 8),
    metal("Cu/Zr *10", dsdpCu, "#e1192f", "emptyDiamond", 7, 8),
    metal("Zn/Zr *10", dsdpZn, "#e5177e", "triangle", 6, 8),
    metal("Sc/Zr *10", dsdpSc, INK, "circle", 5, 8),
    metal("Co/Zr *10", dsdpCo, "#3d2a86", STAR, 6, 8),
    metal("V/Zr *100", dsdpV, "#14a0dc", PLUS, 7, 8),
    metal("Ni/Zr *10", dsdpNi, "#00934a", "diamond", 7, 8),
    ...fluxSeries(dsdpFluxDepth, dsdpFluxNarrow, dsdpFluxWide, dsdpFluxOther, 9),
    { type: "line", xAxisIndex: 10, yAxisIndex: 10, data: dsdpTOC, symbol: "none", lineStyle: { color: INK, width: 0.6 }, areaStyle: { color: "#1a1a1a", opacity: 1 }, z: 3 },
    { type: "line", xAxisIndex: 11, yAxisIndex: 11, data: dsdpD13C, symbol: "circle", symbolSize: 3, lineStyle: { color: INK, width: 1.3 }, itemStyle: { color: INK }, z: 3 },
    custom(12, dsdpMagneto, renderMagneto(Math.PI / 2, 13)),
    custom(13, dsdpNanno, renderNanno(dsdpNannoNames)),
    custom(14, dsdpLith, renderLith),
    custom(15, dsdpStages, renderStage(dsdpStageNames)),
  ];
  return { animation: false, backgroundColor: "#fff", grid, xAxis, yAxis, series };
}

function legendSymbol(kind: string, x: number, y: number, c: string): any[] {
  const s = 4;
  const st = (w = 1.4) => ({ stroke: c, lineWidth: w });
  switch (kind) {
    case "plus":
      return [
        { type: "line", shape: { x1: x - s, y1: y, x2: x + s, y2: y }, style: st(1.6) },
        { type: "line", shape: { x1: x, y1: y - s, x2: x, y2: y + s }, style: st(1.6) },
      ];
    case "diamond":
      return [{ type: "polygon", shape: { points: [[x, y - s], [x + s, y], [x, y + s], [x - s, y]] }, style: { fill: c } }];
    case "ediamond":
      return [{ type: "polygon", shape: { points: [[x, y - s], [x + s, y], [x, y + s], [x - s, y]] }, style: { fill: "#fff", stroke: c, lineWidth: 1.4 } }];
    case "tri":
      return [{ type: "polygon", shape: { points: [[x - s, y], [x + s * 0.8, y - s], [x + s * 0.8, y + s]] }, style: { fill: c } }];
    case "etri":
      return [{ type: "polygon", shape: { points: [[x - s, y], [x + s * 0.8, y - s], [x + s * 0.8, y + s]] }, style: { fill: "#fff", stroke: c, lineWidth: 1.3 } }];
    case "circle":
      return [{ type: "circle", shape: { cx: x, cy: y, r: 3.5 }, style: { fill: c } }];
    default:
      return [
        { type: "line", shape: { x1: x - s, y1: y, x2: x + s, y2: y }, style: st() },
        { type: "line", shape: { x1: x - s * 0.7, y1: y - s, x2: x + s * 0.7, y2: y + s }, style: st() },
        { type: "line", shape: { x1: x - s * 0.7, y1: y + s, x2: x + s * 0.7, y2: y - s }, style: st() },
      ];
  }
}

function metalLegend(box: number[], entries: any[], xs: number[], symTop: number, symBot: number, textY: number) {
  const ch: any[] = [{ type: "rect", shape: { x: box[0], y: box[1], width: box[2] - box[0], height: box[3] - box[1] }, style: { fill: "#fff", stroke: INK, lineWidth: 1.8 } }];
  entries.forEach((e, i) => {
    const x = xs[i];
    ch.push({ type: "line", shape: { x1: x, y1: symTop, x2: x, y2: symBot }, style: { stroke: e[1], lineWidth: 1.3 } });
    ch.push(...legendSymbol(e[2], x, (symTop + symBot) / 2, e[1]));
    ch.push({ type: "text", x, y: textY, rotation: Math.PI / 2, style: txtStyle({ text: e[0], color: e[1], size: 12.5, weight: "bold", align: "left" }) });
  });
  return { type: "group", z: 10, children: ch };
}

function buildGraphic(chart: any) {
  const px = (ax: number, v: number) => chart.convertToPixel({ xAxisIndex: ax }, v) as number;
  const py = (ax: number, v: number) => chart.convertToPixel({ yAxisIndex: ax }, v) as number;
  const g: any[] = [];
  const rect = (x0: number, y0: number, x1: number, y1: number, fill: string, z = 0) =>
    ({ type: "rect", z, silent: true, shape: { x: x0, y: y0, width: x1 - x0, height: y1 - y0 }, style: { fill } });
  const line = (pts: number[][], stroke: string, w: number, dash?: number[], z = 5) =>
    ({ type: "polyline", z, silent: true, shape: { points: pts }, style: { stroke, lineWidth: w, fill: "none", lineDash: dash } });

  const ca = px(0, 18.55), cb = px(0, 23.69), da = px(8, 614.0), db = px(8, 625.0);
  const connTop = GRIDS[7].b + 1, connBot = 859;
  g.push(rect(ca, GRIDS[0].t, cb, GRIDS[3].b, GRAY_BAND));
  g.push(rect(ca, GRIDS[6].b, cb, connTop, GRAY_BAND));
  g.push({ type: "polygon", z: 0, silent: true, shape: { points: [[ca, connTop], [cb, connTop], [db, connBot], [da, connBot]] }, style: { fill: GRAY_BAND } });
  g.push(rect(da, connBot, db, GRIDS[11].b, GRAY_BAND));
  g.push(rect(px(8, 540.8), GRIDS[8].t, px(8, 565.1), GRIDS[11].b - 3, YELLOW_BAND));

  [7, 15].forEach((i) => {
    const gr = GRIDS[i];
    g.push(line([[gr.l, gr.t], [gr.r, gr.t]], INK, 1.3, undefined, 4));
    g.push(line([[gr.l, gr.b], [gr.r, gr.b]], INK, 1.3, undefined, 4));
  });

  const crisisC = px(0, 23.9), declineC = px(0, 31.78);
  const crisisD = px(8, 628.0), declineD = px(8, 648.6);
  g.push(line([[crisisC, GRIDS[0].t], [crisisC, GRIDS[3].b]], GREEN_LINE, 1.8));
  g.push(line([[declineC, GRIDS[0].t], [declineC, GRIDS[3].b]], GREEN_LINE, 1.8));
  g.push(line([[crisisC, connTop], [crisisD, connBot], [crisisD, GRIDS[11].b]], GREEN_LINE, 1.8));
  g.push(line([[declineC, connTop], [declineD, connBot], [declineD, GRIDS[11].b]], GREEN_LINE, 1.8));

  const dd1 = px(0, 7.55), dd2 = px(0, 9.98), ddD = px(8, 594.7);
  g.push(line([[dd1, GRIDS[0].t], [dd1, GRIDS[7].b]], INK, 1.2, [9, 4, 2, 4]));
  g.push(line([[dd2, GRIDS[0].t], [dd2, GRIDS[7].b], [ddD, connBot]], INK, 1.2, [9, 5]));
  g.push(line([[ddD, connBot], [ddD, GRIDS[11].b]], INK, 1.2, [9, 4, 2, 4]));

  cismonZones.forEach((z: any) => g.push(T(px(3, z[1]), py(3, z[2]), z[0], { rot: Math.PI / 2, size: 16 })));
  dsdpZones.forEach((z: any) => g.push(T(px(11, z[1]), py(11, z[2]), z[0], { rot: Math.PI / 2, size: z[0] === "C4-C6" ? 10.5 : 15 })));

  g.push(T(px(1, 21.66), py(1, 16.3), "OAE 1a", { rot: Math.PI / 2, size: 19 }));
  g.push(T(px(9, 619.8), py(9, 17.9), "OAE 1a", { rot: Math.PI / 2, size: 19 }));
  g.push(T(px(9, 550.9), py(9, 16.8), "{i|N. truittii}\n{n|acme}", {
    rot: Math.PI / 2, size: 20,
    rich: { i: { fontSize: 20, fontStyle: "italic", fontFamily: FONT, fill: INK, lineHeight: 24 }, n: { fontSize: 20, fontFamily: FONT, fill: INK, lineHeight: 24 } },
  }));
  const nl = (x: number, y: number, t: string) => g.push(T(x, y, t, { rot: Math.PI / 2, size: 13, color: GREEN_LINE, align: "right", valign: "middle" }));
  nl(px(2, 24.84), py(2, 8.7), "Nannoconid\ncrisis");
  nl(px(2, 31.75), py(2, 9.3), "Nannoconid\ndecline");
  nl(px(10, 627.9), py(10, 9.6), "Nannoconid\ncrisis");
  nl(px(10, 645.3), py(10, 9.6), "Nannoconid\ndecline");

  const R = (3 * Math.PI) / 4;
  const tt = (x: number, y: number, text: string, rich?: any, size = 21) =>
    g.push(T(x, y, text, { rot: R, size, align: "left", valign: "middle", rich }));
  const supRich = {
    n: { fontSize: 21, fontFamily: FONT, fill: INK, lineHeight: 25 },
    s: { fontSize: 13, fontFamily: FONT, fill: INK, lineHeight: 25, verticalAlign: "top" },
  };
  const d13Rich = {
    d: { fontSize: 24, fontFamily: FONT, fill: INK, lineHeight: 30 },
    s: { fontSize: 13, fontFamily: FONT, fill: INK, lineHeight: 30, verticalAlign: "top" },
    b: { fontSize: 14, fontFamily: FONT, fill: INK, lineHeight: 30, verticalAlign: "bottom" },
    n: { fontSize: 20, fontFamily: FONT, fill: INK, lineHeight: 30 },
  };
  const fluxL3 = "{n|g 10}{s|-6}{n| mm}{s|-2}{n| year}{s|-1}";
  const d13 = "{d|δ}{s|13}{d|C}{b| carb}{n| ‰ (VPDB)}";
  [0, 852].forEach((off) => {
    tt(202, 152 + off, "Metals (ppm)", undefined, 22);
    tt(172, 345 + off, "Nannofossil calcite");
    tt(192, 322 + off, "paleo-fluxes");
    tt(213, 295 + off, fluxL3, supRich);
  });
  tt(180, 412, "TOC (wt%)", undefined, 20);
  tt(182, 1267, "TOC (wt%)", undefined, 20);
  tt(207, 637, d13, d13Rich);
  tt(207, 1492, d13, d13Rich);

  const rl = (x: number, y: number, t: string) => g.push(T(x, y, t, { rot: Math.PI, size: 17, align: "left" }));
  rl(233, 701.7, "Magneto zone");
  rl(233, 726, "Nannofossil Zone");
  rl(233, 752, "Lithology");
  rl(230, 1563, "Magneto zone");
  rl(230, 1592, "Nannofossil Zone");
  rl(230, 1630, "Lithology");
  g.push(T(228, 780, "m", { rot: Math.PI / 2, size: 16 }));
  g.push(T(243, 1666, "m", { rot: Math.PI / 2, size: 17 }));

  g.push({ type: "rect", z: 6, shape: { x: 7, y: 648, width: 45, height: 157 }, style: { fill: "none", stroke: INK, lineWidth: 1.4 } });
  g.push(T(30, 726, "Cismon core", { rot: Math.PI / 2, size: 25 }));
  g.push({ type: "rect", z: 6, shape: { x: 8, y: 1532, width: 45, height: 210 }, style: { fill: "none", stroke: INK, lineWidth: 1.4 } });
  g.push(T(30.5, 1623, "DSDP Site 463", { rot: Math.PI / 2, size: 25 }));

  g.push(metalLegend([269, 24, 377, 130], [
    ["V/Zr *100", "#14a0dc", "plus"], ["Zn/Zr *100", "#e5177e", "tri"], ["Sc/Zr", INK, "circle"],
    ["Co/Zr *100", "#3d2a86", "star"], ["Cu/Zr *100", "#e1192f", "ediamond"], ["Pb/Zr *100", "#8b7db8", "etri"],
  ], [279, 295, 313, 330, 347, 363], 28, 54, 125));
  g.push(metalLegend([273, 879, 394, 985], [
    ["V/Zr *100", "#14a0dc", "plus"], ["Ni/Zr *10", "#00934a", "diamond"], ["Zn/Zr *10", "#e5177e", "tri"],
    ["Sc/Zr *10", INK, "circle"], ["Co/Zr *10", "#3d2a86", "star"], ["Cu/Zr *10", "#e1192f", "ediamond"], ["Pb/Zr *100", "#8b7db8", "etri"],
  ], [282, 300, 318, 336, 353, 369, 385], 882, 908, 982));

  // main legend (right)
  g.push({ type: "rect", z: 6, shape: { x: 849, y: 18, width: 130, height: 1678 }, style: { fill: "none", stroke: INK, lineWidth: 2 } });
  g.push(T(868, 1654, "Legend", { rot: Math.PI / 2, size: 19, align: "left" }));
  const sw = (x: number, yc: number, fill: string, extra?: string) => {
    g.push({ type: "rect", z: 6, shape: { x: x - 7, y: yc - 7, width: 14, height: 14 }, style: { fill, stroke: INK, lineWidth: 1.2 } });
    if (extra === "ash") g.push({ type: "rect", z: 7, shape: { x: x - 2, y: yc - 2.5, width: 4, height: 5 }, style: { fill: INK } });
  };
  const lt = (x: number, y: number, t: string) => g.push(T(x, y, t, { rot: Math.PI / 2, size: 19, align: "left" }));
  const c1 = 897, c2 = 938;
  sw(c1, 1657, "#1a1a1a"); lt(c1, 1646, "Black shale");
  sw(c1, 1531, "#d3d6d6"); lt(c1, 1520, "Carbonaceous limestone");
  sw(c1, 1232, "#e6e8e8", "ash"); lt(c1, 1221, "Ash layer");
  sw(c1, 1100, "#6f7475"); lt(c1, 1089, "Marlstone");
  sw(c1, 964, "#a9aeaf"); lt(c1, 953, "Limestone");
  sw(c1, 818, "#ffffff"); lt(c1, 807, "Radiolarian bed");
  g.push(line([[c2, 1692], [c2, 1638]], INK, 1.4, [5, 4, 2, 4], 6));
  lt(c2, 1630, "Hiatus");
  g.push({ type: "polygon", z: 6, shape: { points: [[c2 - 6, 1519], [c2 + 6, 1525], [c2 + 6, 1513]] }, style: { fill: INK } });
  lt(c2, 1505, "Chert");
  sw(c2, 1403, C_WIDE); lt(c2, 1392, "wide-canal Nannoconids");
  sw(c2, 1150, C_NARROW); lt(c2, 1139, "narrow-canal Nannoconids");
  sw(c2, 898, C_OTHER); lt(c2, 887, "other nannofossil species");

  return g;
}

export default function App() {
  const ref = useRef<HTMLDivElement>(null);
  useEffect(() => {
    const chart = echarts.init(ref.current as HTMLDivElement, null, { renderer: "svg" });
    chart.setOption(buildOption() as any);
    chart.setOption({ graphic: buildGraphic(chart) } as any);
    return () => chart.dispose();
  }, []);
  return <div ref={ref} style={{ position: "absolute", left: 0, top: 0, width: 966, height: 1726, background: "#fff" }} />;
}
